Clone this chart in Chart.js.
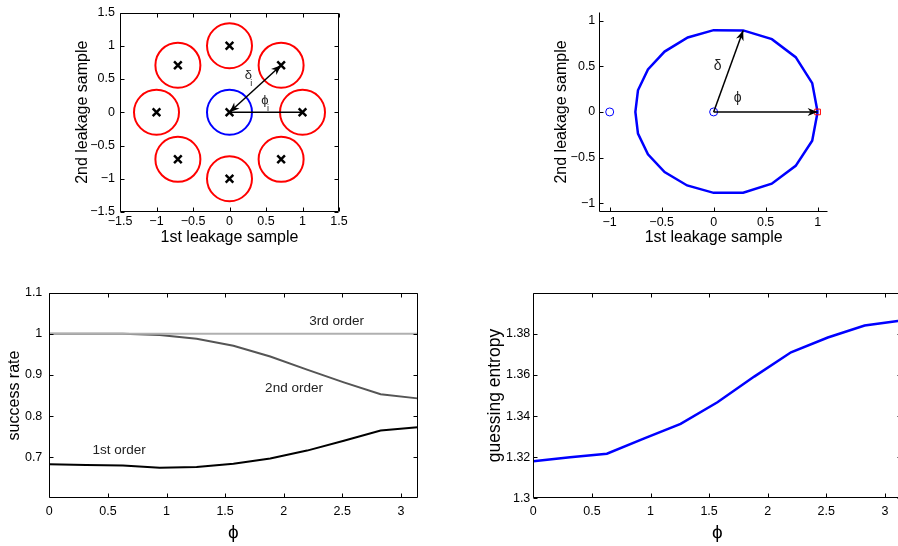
<!DOCTYPE html>
<html>
<head>
<meta charset="utf-8">
<script src="https://cdn.jsdelivr.net/npm/chart.js@4.4.1/dist/chart.umd.min.js"></script>
<style>
html, body { margin: 0; padding: 0; background: #fff; }
body { width: 898px; height: 546px; overflow: hidden; position: relative; }
.pane { position: absolute; }
</style>
</head>
<body>
<div class="pane" style="left:0;top:0"><canvas id="cA" width="360" height="250"></canvas></div>
<div class="pane" style="left:540px;top:0"><canvas id="cB" width="320" height="250"></canvas></div>
<div class="pane" style="left:0;top:260px"><canvas id="cC" width="440" height="286"></canvas></div>
<div class="pane" style="left:450px;top:260px"><canvas id="cD" width="470" height="286"></canvas></div>
<script>
const FONT = "'Liberation Sans', Arial, Helvetica, 'DejaVu Sans', sans-serif";
const PHI = '\u03d5';

// --- top left: key value and its 8 neighbours ---
const ringX = [1, 0.707, 0, -0.707, -1, -0.707, 0, 0.707];
const ringY = [0, 0.707, 1, 0.707, 0, -0.707, -1, -0.707];
const originX = [0];
const originY = [0];
const deltaArrowX = [0, 0.707];
const deltaArrowY = [0, 0.707];
const phiLineX = [0, 1];
const phiLineY = [0, 0];
const ticksA = [-1.5, -1, -0.5, 0, 0.5, 1, 1.5];

// --- top right: leakage contour ---
const shapeX = [1, 0.948, 0.789, 0.560, 0.284, 0, -0.249, -0.472, -0.632, -0.728, -0.753,
                -0.728, -0.632, -0.472, -0.255, 0, 0.284, 0.559, 0.789, 0.948, 1];
const shapeY = [0, 0.316, 0.600, 0.797, 0.893, 0.896, 0.815, 0.661, 0.465, 0.237, 0,
                -0.237, -0.463, -0.659, -0.805, -0.886, -0.884, -0.785, -0.590, -0.316, 0];
const openX = [-1, 0];
const openY = [0, 0];
const squareX = [1];
const squareY = [0];
const deltaX = [0, 0.284];
const deltaY = [0, 0.893];
const phiX = [0, 1];
const phiY = [0, 0];
const ticksB = [-1, -0.5, 0, 0.5, 1];

// --- bottom: results against phi ---
const phi = [0, 0.314, 0.628, 0.942, 1.257, 1.571, 1.885, 2.199, 2.513, 2.827, 3.1416];
const order1 = [0.683, 0.681, 0.680, 0.674, 0.676, 0.684, 0.697, 0.716, 0.740, 0.765, 0.773];
const order2 = [1.0, 1.0, 1.0, 0.997, 0.988, 0.971, 0.945, 0.913, 0.882, 0.853, 0.843];
const order3 = [1, 1, 1, 1, 1, 1, 1, 1, 1, 1, 1];
const entropy = [1.318, 1.320, 1.3217, 1.329, 1.3362, 1.3467, 1.3592, 1.371, 1.3782, 1.384, 1.3865];
const phiTicks = [0, 0.5, 1, 1.5, 2, 2.5, 3];
const srTicks = [0.7, 0.8, 0.9, 1, 1.1];
const geTicks = [1.3, 1.32, 1.34, 1.36, 1.38];

const pts = (xs, ys) => xs.map((x, i) => ({x, y: ys[i]}));
const fmt = v => String(v).replace('-', '\u2212');

function head(ctx, from, to) {
    const ang = Math.atan2(to.y - from.y, to.x - from.x);
    ctx.save();
    ctx.translate(to.x, to.y);
    ctx.rotate(ang);
    ctx.beginPath();
    ctx.moveTo(0, 0);
    ctx.lineTo(-10, -4);
    ctx.lineTo(-7, 0);
    ctx.lineTo(-10, 4);
    ctx.closePath();
    ctx.fillStyle = '#000';
    ctx.fill();
    ctx.restore();
}

// matlab-ish axes: inward ticks, optional box, arrow heads, text notes
const matlab = {
    id: 'matlab',
    afterDatasetsDraw(chart, args, o) {
        const {ctx, chartArea: a, scales: {x, y}} = chart;
        const s = v => Math.round(v) + 0.5;
        const L = s(a.left), R = s(a.right - 1), T = s(a.top), B = s(a.bottom - 1);
        ctx.save();
        ctx.strokeStyle = '#000';
        ctx.lineWidth = 1;
        ctx.beginPath();
        ctx.moveTo(L, T); ctx.lineTo(L, B); ctx.lineTo(R, B);
        if (o.box) { ctx.lineTo(R, T); ctx.lineTo(L, T); }
        x.ticks.forEach(t => {
            const p = s(x.getPixelForValue(t.value));
            ctx.moveTo(p, B); ctx.lineTo(p, B - 4);
            if (o.box) { ctx.moveTo(p, T); ctx.lineTo(p, T + 4); }
        });
        y.ticks.forEach(t => {
            const p = s(y.getPixelForValue(t.value));
            ctx.moveTo(L, p); ctx.lineTo(L + 4, p);
            if (o.box) { ctx.moveTo(R, p); ctx.lineTo(R - 4, p); }
        });
        ctx.stroke();

        chart.data.datasets.forEach((ds, i) => {
            if (!ds.arrow) return;
            const d = chart.getDatasetMeta(i).data;
            head(ctx, d[0], d[d.length - 1]);
            if (ds.arrow === 'both') head(ctx, d[d.length - 1], d[0]);
        });

        (o.notes || []).forEach(n => {
            const px = x.getPixelForValue(n.x), py = y.getPixelForValue(n.y);
            ctx.fillStyle = '#222';
            ctx.textAlign = 'center';
            ctx.textBaseline = 'middle';
            ctx.font = n.size + 'px ' + FONT;
            ctx.fillText(n.text, px, py);
            if (n.sub) {
                ctx.font = '9px ' + FONT;
                ctx.fillText(n.sub, px + 3, py + 8);
            }
        });
        ctx.restore();
    }
};

function axis(min, max, ticks, o) {
    return {
        type: 'linear', min, max,
        afterBuildTicks: sc => { sc.ticks = ticks.map(v => ({value: v})); },
        afterFit: sc => {
            if (o.w != null) sc.width = o.w;
            if (o.h != null) sc.height = o.h;
        },
        grid: {display: false, drawTicks: false},
        border: {display: false},
        ticks: {color: '#000', font: {family: FONT, size: 12.5}, padding: o.pad,
                autoSkip: false, maxRotation: 0, callback: v => fmt(v)},
        title: {display: true, text: o.title, color: '#000',
                font: {family: FONT, size: o.ts || 16}, padding: o.tp}
    };
}

function make(id, datasets, xs, ys, pad, box, notes) {
    return new Chart(document.getElementById(id), {
        type: 'scatter',
        data: {datasets},
        options: {
            responsive: false, animation: false, devicePixelRatio: 1,
            layout: {padding: pad, autoPadding: false},
            scales: {x: xs, y: ys},
            plugins: {legend: {display: false}, tooltip: {enabled: false}, matlab: {box, notes}}
        },
        plugins: [matlab]
    });
}

const line = (data, color, width, extra) => Object.assign({
    data, showLine: true, borderColor: color, borderWidth: width, pointRadius: 0, fill: false
}, extra || {});

// top left
make('cA', [
    line(pts(deltaArrowX, deltaArrowY), '#000', 1.5, {arrow: 'both'}),
    line(pts(phiLineX, phiLineY), '#000', 1.5),
    {data: pts(ringX.concat(originX), ringY.concat(originY)), pointStyle: 'crossRot', pointRadius: 5.4,
     borderColor: '#000', borderWidth: 2.5},
    {data: pts(originX, originY), pointStyle: 'circle', pointRadius: 22.5,
     borderColor: '#0000ff', backgroundColor: 'rgba(0,0,0,0)', borderWidth: 2},
    {data: pts(ringX, ringY), pointStyle: 'circle', pointRadius: 22.5,
     borderColor: '#ff0000', backgroundColor: 'rgba(0,0,0,0)', borderWidth: 2}
],
    axis(-1.5, 1.5, ticksA, {h: 38, pad: 2.5, title: '1st leakage sample', tp: {top: 0, bottom: 2.4}}),
    axis(-1.5, 1.5, ticksA, {w: 120, pad: 5, title: '2nd leakage sample', tp: {top: 73.4, bottom: 0}}),
    {left: 0, top: 7, right: 21, bottom: 0}, true,
    [{text: '\u03b4', sub: 'i', x: 0.258, y: 0.553, size: 13},
     {text: PHI, sub: 'i', x: 0.486, y: 0.179, size: 13}]);

// top right
make('cB', [
    line(pts(deltaX, deltaY), '#000', 1.5, {arrow: 'end'}),
    line(pts(phiX, phiY), '#000', 1.5, {arrow: 'end'}),
    {data: pts(squareX, squareY), pointStyle: 'rect', pointRadius: 4,
     borderColor: '#ff0000', backgroundColor: 'rgba(0,0,0,0)', borderWidth: 1},
    {data: pts(openX, openY), pointStyle: 'circle', pointRadius: 4,
     borderColor: '#0000ff', backgroundColor: 'rgba(0,0,0,0)', borderWidth: 1},
    line(pts(shapeX, shapeY), '#0000ff', 2.5)
],
    axis(-1.1, 1.1, ticksB, {h: 37.6, pad: 2.5, title: '1st leakage sample', tp: {top: 0, bottom: 2.4}}),
    axis(-1.1, 1.1, ticksB, {w: 59.3, pad: 4, title: '2nd leakage sample', tp: {top: 12.1, bottom: 0}}),
    {left: 0, top: 6.6, right: 32, bottom: 0}, false,
    [{text: '\u03b4', x: 0.038, y: 0.50, size: 14},
     {text: PHI, x: 0.23, y: 0.148, size: 14}]);

// bottom left
make('cC', [
    line(pts(phi, order3), '#b0b0b0', 2),
    line(pts(phi, order2), '#555555', 2),
    line(pts(phi, order1), '#000000', 2)
],
    axis(0, 3.1416, phiTicks, {h: 47.7, pad: 5.5, title: PHI, ts: 19, tp: {top: 0, bottom: 1.6}}),
    axis(0.6, 1.1, srTicks, {w: 49.3, pad: 7, title: 'success rate', tp: {top: 5.4, bottom: 0}}),
    {left: 0, top: 32.7, right: 22.5, bottom: 0}, true,
    [{text: '3rd order', x: 2.452, y: 1.031, size: 13.5},
     {text: '2nd order', x: 2.088, y: 0.8665, size: 13.5},
     {text: '1st order', x: 0.595, y: 0.716, size: 13.5}]);

// bottom right
make('cD', [
    line(pts(phi, entropy), '#0000ff', 2.5)
],
    axis(0, 3.1416, phiTicks, {h: 47.7, pad: 5.5, title: PHI, ts: 19, tp: {top: 0, bottom: 1.6}}),
    axis(1.3, 1.4, geTicks, {w: 83.3, pad: 3, title: 'guessing entropy', ts: 17.5, tp: {top: 34.5, bottom: 0}}),
    {left: 0, top: 32.7, right: 18.5, bottom: 0}, true, []);
</script>
</body>
</html>
